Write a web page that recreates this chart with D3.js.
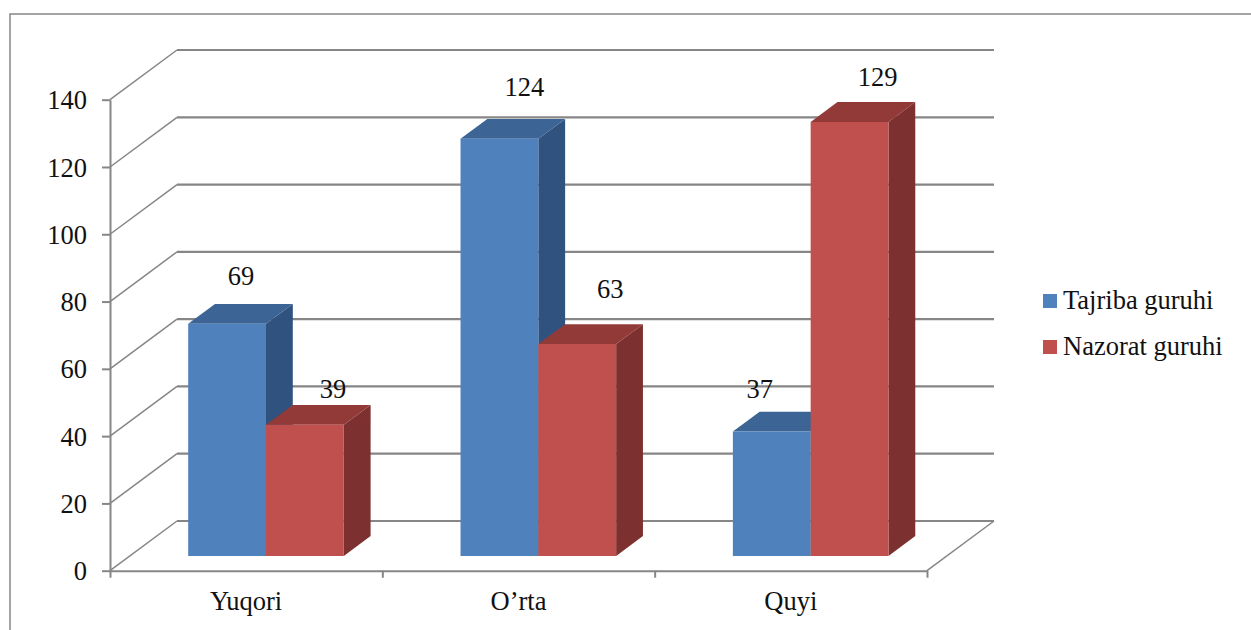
<!DOCTYPE html>
<html>
<head>
<meta charset="utf-8">
<script src="https://cdn.jsdelivr.net/npm/d3@7/dist/d3.min.js"></script>
<style>
html,body{margin:0;padding:0;background:#fff;}
svg{display:block;}
text{font-family:"Liberation Serif","Times New Roman",serif;fill:#111;}
</style>
</head>
<body>
<svg id="c" width="1251" height="630"></svg>
<script>
const categories = ["Yuqori", "O’rta", "Quyi"];
const seriesNames = ["Tajriba guruhi", "Nazorat guruhi"];
const tajriba = [69, 124, 37];
const nazorat = [39, 63, 129];
const yTicks = [0, 20, 40, 60, 80, 100, 120, 140];

const seriesValues = [tajriba, nazorat];
const fills = [
  {front:"#4F81BD", top:"#3C6494", side:"#30527E"},
  {front:"#C0504D", top:"#923A38", side:"#7C302F"}
];
const gridColor = "#868686";
const fontSize = 26.5;

// hand-placed data-label nudges relative to the bar's front-top centre
const labelNudge = [
  [[14,-39],[28,-27]],
  [[25,-43],[33,-46]],
  [[-12,-34],[28,-36]]
];

const W = {dx:67, dy:-49.7};       // depth vector of the 3-D wall
const barZ = [0.296, 0.696];       // bar front / back as fractions of the depth

const svg = d3.select("#c");
const y = d3.scaleLinear().domain([0,140]).range([570.7,99.7]);
const xEdge = d3.scaleLinear().domain([0,categories.length]).range([110,927]);
const x0 = d3.scaleBand().domain(categories).range([110,927]);
const x1 = d3.scaleBand().domain(d3.range(seriesNames.length))
  .range([0,x0.bandwidth()]).paddingInner(0).paddingOuter(0.75);

const line = d3.line();
const proj = (px,py,z) => [px + W.dx*z, py + W.dy*z];

// chart frame
svg.append("path").attr("d", line([[10,630],[10,14],[1251,14]]))
  .attr("fill","none").attr("stroke",gridColor).attr("stroke-width",1.5);

// walls and gridlines
const grid = svg.append("g").attr("fill","none").attr("stroke",gridColor);
yTicks.forEach(v => {
  const a = [xEdge.range()[0], y(v)];
  const b = proj(a[0], a[1], 1);
  const c = [xEdge.range()[1]+W.dx, b[1]];
  grid.append("path").attr("d", line([a,b])).attr("stroke-width",1.5);
  grid.append("path").attr("d", line([b,c])).attr("stroke-width",2.2);
});
// floor right edge
grid.append("path").attr("stroke-width",1.5)
  .attr("d", line([[xEdge.range()[1],y(0)], proj(xEdge.range()[1],y(0),1)]));

// axes
const yAxis = svg.append("g").attr("transform",`translate(${xEdge.range()[0]},0)`)
  .call(d3.axisLeft(y).tickValues(yTicks).tickSize(8).tickSizeOuter(0).tickPadding(15).tickFormat(d3.format("d")));
const xAxis = svg.append("g").attr("transform",`translate(0,${y(0)})`)
  .call(d3.axisBottom(xEdge).tickValues(d3.range(categories.length+1)).tickSize(7).tickSizeOuter(0).tickFormat(""));
[yAxis,xAxis].forEach(g=>{
  g.selectAll("path,line").attr("stroke",gridColor).attr("stroke-width",2);
  g.selectAll("text").attr("font-size",fontSize).attr("font-family",'"Liberation Serif",serif').attr("fill","#111");
});
yAxis.selectAll("text").attr("dy","0.34em");

// category labels
svg.append("g").selectAll("text").data(categories).join("text")
  .attr("x", d => x0(d)+x0.bandwidth()/2)
  .attr("y", 609.5)
  .attr("text-anchor","middle")
  .attr("font-size",fontSize)
  .text(d => d);

// bars
const barsG = svg.append("g");
const labelsG = svg.append("g");
categories.forEach((cat,ci) => {
  seriesNames.forEach((s,si) => {
    const v = seriesValues[si][ci];
    const col = fills[si];
    const xl = x0(cat)+x1(si), xr = xl + x1.bandwidth();
    const yt = y(v), yb = y(0);
    const A = proj(xl,yt,barZ[0]), B = proj(xr,yt,barZ[0]);
    const C = proj(xr,yb,barZ[0]), D = proj(xl,yb,barZ[0]);
    const A2 = proj(xl,yt,barZ[1]), B2 = proj(xr,yt,barZ[1]), C2 = proj(xr,yb,barZ[1]);
    barsG.append("path").attr("d", line([B,B2,C2,C])+"Z").attr("fill",col.side);
    barsG.append("path").attr("d", line([A,A2,B2,B])+"Z").attr("fill",col.top);
    barsG.append("path").attr("d", line([A,B,C,D])+"Z").attr("fill",col.front);
    const n = labelNudge[ci][si];
    labelsG.append("text")
      .attr("x",(A[0]+B[0])/2+n[0]).attr("y",A[1]+n[1])
      .attr("text-anchor","middle").attr("font-size",fontSize).text(v);
  });
});

// legend
const legY = d3.scalePoint().domain(seriesNames).range([301,347]);
const leg = svg.append("g");
seriesNames.forEach((s,i)=>{
  leg.append("rect").attr("x",1043).attr("y",legY(s)-7).attr("width",14).attr("height",14).attr("fill",fills[i].front);
  leg.append("text").attr("x",1063).attr("y",legY(s)+8).attr("font-size",fontSize).text(s);
});
</script>
</body>
</html>
